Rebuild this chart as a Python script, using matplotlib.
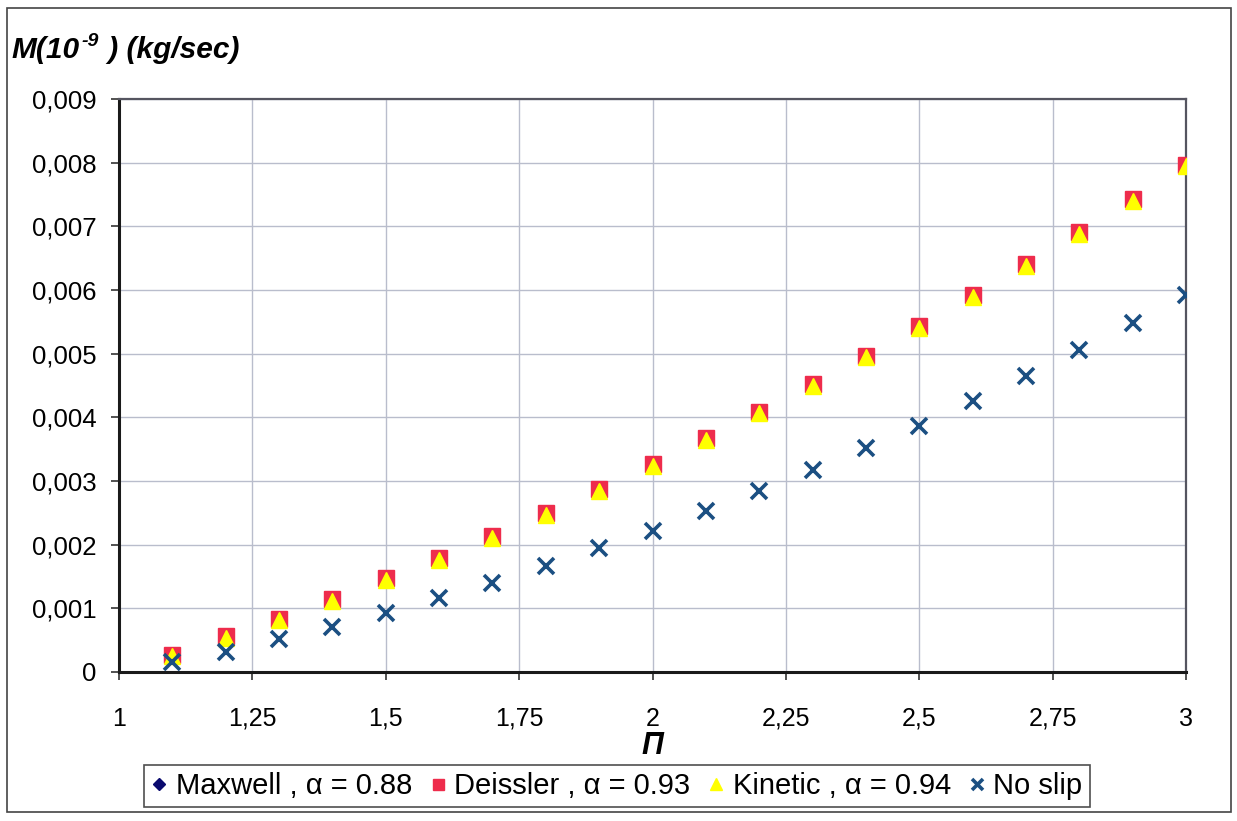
import matplotlib
matplotlib.use("Agg")
import matplotlib.pyplot as plt
from matplotlib.ticker import FixedLocator, FuncFormatter
from matplotlib.patches import Rectangle
from matplotlib.transforms import offset_copy

plt.rcParams['font.family'] = ['Liberation Sans', 'DejaVu Sans']

# Pressure ratio
pi_ratio = [1.1, 1.2, 1.3, 1.4, 1.5, 1.6, 1.7, 1.8, 1.9, 2.0,
            2.1, 2.2, 2.3, 2.4, 2.5, 2.6, 2.7, 2.8, 2.9, 3.0]

# Mass flow rate, M (10^-9 kg/sec)
maxwell = [0.00027, 0.00055, 0.00083, 0.00114, 0.00146, 0.00178, 0.00212, 0.00249,
           0.00287, 0.00326, 0.00366, 0.00408, 0.00451, 0.00496, 0.00543, 0.00591,
           0.00640, 0.00690, 0.00742, 0.00796]
deissler = [0.00027, 0.00056, 0.00084, 0.00115, 0.00147, 0.00179, 0.00213, 0.00250,
            0.00288, 0.00327, 0.00367, 0.00409, 0.00452, 0.00497, 0.00544, 0.00592,
            0.00641, 0.00691, 0.00743, 0.00797]
kinetic = [0.00025, 0.00053, 0.00081, 0.00112, 0.00144, 0.00176, 0.00210, 0.00247,
           0.00285, 0.00324, 0.00364, 0.00406, 0.00449, 0.00494, 0.00541, 0.00589,
           0.00638, 0.00688, 0.00740, 0.00794]
no_slip = [0.00016, 0.00032, 0.00052, 0.00071, 0.00093, 0.00116, 0.00140, 0.00167,
           0.00194, 0.00222, 0.00253, 0.00284, 0.00317, 0.00352, 0.00387, 0.00425,
           0.00465, 0.00505, 0.00548, 0.00592]

x_ticks = [1, 1.25, 1.5, 1.75, 2, 2.25, 2.5, 2.75, 3]
y_ticks = [0, 0.001, 0.002, 0.003, 0.004, 0.005, 0.006, 0.007, 0.008, 0.009]

fig = plt.figure(figsize=(12.37, 8.21), dpi=100)
ax = fig.add_axes([0.0962, 0.1815, 0.8626, 0.698])

ax.plot(pi_ratio, maxwell, linestyle='none', marker='D', color='#0a0a6e',
        markersize=8, label='Maxwell , α = 0.88', zorder=3)
ax.plot(pi_ratio, deissler, linestyle='none', marker='s', color='#ee2c4c',
        markersize=11, label='Deissler , α = 0.93', zorder=4)
ax.plot(pi_ratio, kinetic, linestyle='none', marker='^', color='#ffff00',
        markersize=12, label='Kinetic , α = 0.94', zorder=5)
ax.plot(pi_ratio, no_slip, linestyle='none', marker='x', color='#1b4f82',
        markersize=11, markeredgewidth=2.6, label='No slip', zorder=6)

ax.set_xlim(1, 3)
ax.set_ylim(0, 0.009)
ax.xaxis.set_major_locator(FixedLocator(x_ticks))
ax.yaxis.set_major_locator(FixedLocator(y_ticks))


def x_fmt(v, _pos):
    return f'{v:.2f}'.rstrip('0').rstrip('.').replace('.', ',')


def y_fmt(v, _pos):
    if abs(v) < 1e-12:
        return '0'
    return f'{v:.3f}'.replace('.', ',')


ax.xaxis.set_major_formatter(FuncFormatter(x_fmt))
ax.yaxis.set_major_formatter(FuncFormatter(y_fmt))

ax.grid(True, color='#b9bdcc', linewidth=1.0, zorder=0)
ax.set_axisbelow(True)
for side in ['left', 'bottom']:
    ax.spines[side].set_linewidth(2.2)
    ax.spines[side].set_color('#1a1a1a')
for side in ['top', 'right']:
    ax.spines[side].set_linewidth(1.6)
    ax.spines[side].set_color('#555560')

ax.tick_params(axis='both', direction='out', length=6, width=1.2,
               colors='#333333', labelcolor='black')
ax.tick_params(axis='x', pad=19, labelsize=18)
ax.tick_params(axis='y', pad=10, labelsize=18.5)

# Axis title with a raised "-9" exponent
title_kw = dict(fontsize=21.5, fontweight='bold', fontstyle='italic', va='baseline')
t1 = fig.text(0.009, 0.929, 'M(10', ha='left', **title_kw)
fig.canvas.draw()
r = fig.canvas.get_renderer()
bb = t1.get_window_extent(r)
t2 = fig.text(bb.x1 / fig.bbox.width + 0.002, 0.929, '-9',
              transform=offset_copy(fig.transFigure, fig=fig, x=0, y=9, units='points'),
              ha='left', fontsize=14, fontweight='bold', fontstyle='italic', va='baseline')
bb2 = t2.get_window_extent(r)
fig.text(bb2.x1 / fig.bbox.width + 0.001, 0.929, ' ) (kg/sec)', ha='left', **title_kw)

ax.set_xlabel('Π', fontsize=22, fontweight='bold', fontstyle='italic', labelpad=0)

leg = fig.legend(loc='center', bbox_to_anchor=(0.4985, 0.0425), ncol=4,
                 fontsize=21, frameon=True, fancybox=False, edgecolor='#222222',
                 handlelength=0.55, handletextpad=0.3, columnspacing=0.6,
                 borderpad=0.25, markerscale=0.72)
leg.get_frame().set_linewidth(1.2)

# Outer chart border
fig.patches.append(Rectangle((0.006, 0.011), 0.989, 0.979, transform=fig.transFigure,
                             fill=False, edgecolor='#444444', linewidth=1.2))

fig.savefig('out.png', dpi=100, facecolor='white')
